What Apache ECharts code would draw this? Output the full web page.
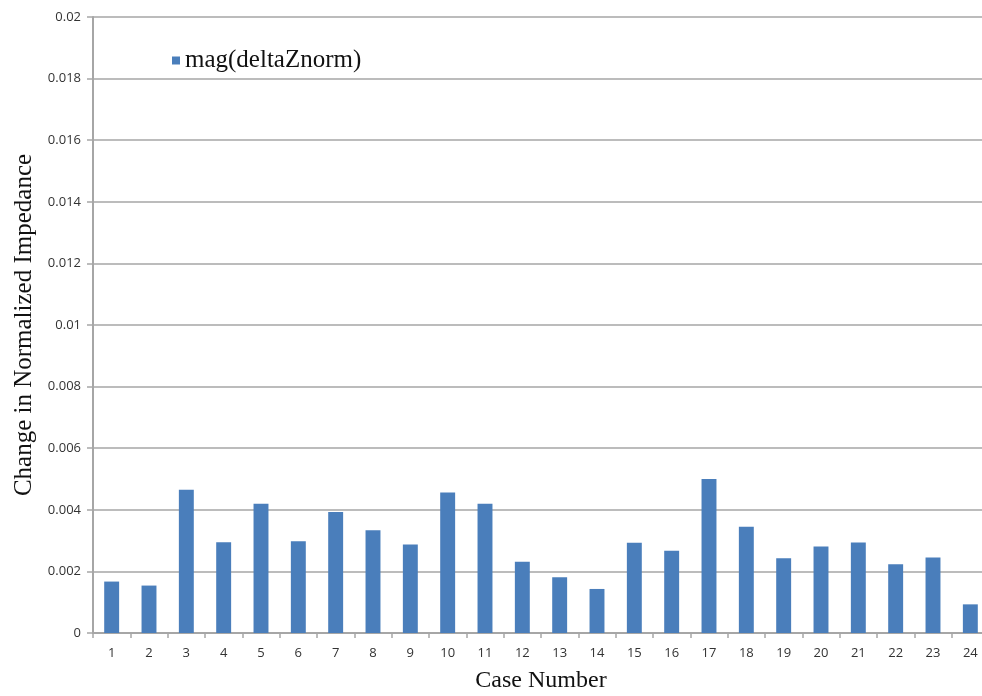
<!DOCTYPE html>
<html><head><meta charset="utf-8">
<script src="https://cdn.jsdelivr.net/npm/echarts@6/dist/echarts.min.js"></script>
<style>html,body{margin:0;padding:0;background:#fff}#c{width:982px;height:696px}</style>
</head><body><div id="c"></div>
<script>
const categories = ['1','2','3','4','5','6','7','8','9','10','11','12','13','14','15','16','17','18','19','20','21','22','23','24'];
const values = [0.00167,0.00154,0.00465,0.00295,0.0042,0.00298,0.00393,0.00334,0.00287,0.00456,0.0042,0.00231,0.00181,0.00143,0.00293,0.00267,0.0050,0.00345,0.00243,0.00281,0.00294,0.00223,0.00245,0.00093];
const seriesName = 'mag(deltaZnorm)';
const chart = echarts.init(document.getElementById('c'));
chart.setOption({
  animation:false,
  grid:{left:93,right:-7,top:17,bottom:63,containLabel:false,outerBoundsMode:'none'},
  legend:{data:[seriesName],left:167,top:43,icon:'rect',itemWidth:8,itemHeight:8,itemGap:4,
    textStyle:{fontFamily:'Liberation Serif',fontSize:25,color:'#111'}},
  xAxis:{type:'category',data:categories,name:'Case Number',nameLocation:'middle',nameGap:36,
    nameTextStyle:{fontFamily:'Liberation Serif',fontSize:24,color:'#111'},
    axisLine:{lineStyle:{color:'#a6a6a6',width:2}},
    axisTick:{show:true,length:5,lineStyle:{color:'#a6a6a6',width:1.5}},
    axisLabel:{fontFamily:'Open Sans',fontSize:13,color:'#333',margin:14}},
  yAxis:{type:'value',min:0,max:0.02,interval:0.002,name:'Change in Normalized Impedance',nameLocation:'middle',nameGap:55,
    nameTextStyle:{fontFamily:'Liberation Serif',fontSize:25,color:'#111'},
    axisLine:{show:true,lineStyle:{color:'#a6a6a6',width:2}},
    axisTick:{show:true,length:6,lineStyle:{color:'#a6a6a6',width:1.5}},
    splitLine:{lineStyle:{color:'#a6a6a6',width:1.5}},
    axisLabel:{fontFamily:'Open Sans',fontSize:13,color:'#333',margin:12,
      formatter:function(v){return v===0?'0':String(+v.toFixed(3));}}},
  series:[{name:seriesName,type:'bar',data:values,barWidth:'40%',
    itemStyle:{color:'#4a7ebb'}}]
});
</script></body></html>
